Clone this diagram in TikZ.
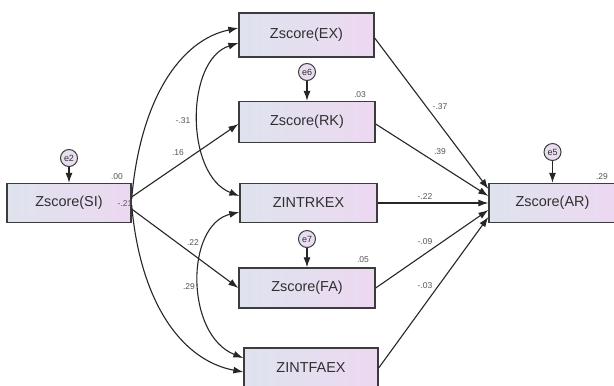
\documentclass[tikz,border=0pt]{standalone}
\usepackage{fontspec}
\setmainfont{Liberation Sans}
\usetikzlibrary{arrows.meta}
\definecolor{boxleft}{HTML}{DEE3EE}
\definecolor{boxright}{HTML}{EDD8F1}
\definecolor{edgegray}{HTML}{3C3C3C}
\definecolor{labelgray}{HTML}{555555}
\definecolor{textgray}{HTML}{303030}
\definecolor{errfill}{HTML}{E9DDF0}

\begin{document}
\begin{tikzpicture}[x=1bp,y=-1bp,
  varbox/.style={draw=edgegray, line width=1.3bp, left color=boxleft, right color=boxright,
                 inner sep=0pt, text=textgray, font=\fontsize{14.5}{17}\selectfont},
  errnode/.style={circle, draw=edgegray, line width=1bp, fill=errfill, minimum size=17bp,
                  inner sep=0pt, text=textgray, font=\fontsize{9}{10}\selectfont},
  coef/.style={inner sep=0pt, text=labelgray, font=\fontsize{8.5}{9}\selectfont},
  onehead/.style={draw=black!85, line width=1.1bp, -{Latex[length=10bp,width=7bp]}},
  twohead/.style={draw=black!85, line width=1.1bp, {Latex[length=10bp,width=7bp]}-{Latex[length=10bp,width=7bp]}}
]
\path[use as bounding box] (0,0) rectangle (614,385);
\clip (0,0) rectangle (614,385);
\fill[white] (0,0) rectangle (614,385);

% observed variables
\node[varbox, minimum width=124bp, minimum height=39bp] (si)   at (69,203)    {Zscore(SI)};
\node[varbox, minimum width=135bp, minimum height=44bp] (ex)   at (306.5,35)  {Zscore(EX)};
\node[varbox, minimum width=136bp, minimum height=41bp] (rk)   at (307,122)   {Zscore(RK)};
\node[varbox, minimum width=137bp, minimum height=39bp] (rkex) at (308.5,203) {ZINTRKEX};
\node[varbox, minimum width=136bp, minimum height=40bp] (fa)   at (307,288)   {Zscore(FA)};
\node[varbox, minimum width=134bp, minimum height=40bp] (faex) at (311,368)   {ZINTFAEX};
\node[varbox, minimum width=127bp, minimum height=39bp] (ar)   at (552.5,203) {Zscore(AR)};

% error terms
\node[errnode] (e2) at (69,158)    {e2};
\node[errnode] (e6) at (307,72)    {e6};
\node[errnode] (e7) at (307,239)   {e7};
\node[errnode] (e5) at (552.5,152) {e5};

\draw[onehead] (e2) -- (si);
\draw[onehead] (e6) -- (rk);
\draw[onehead] (e7) -- (fa);
\draw[onehead] (e5) -- (ar);

% squared multiple correlations
\node[coef] (v00) at (117,177) {.00};
\node[coef] (v03) at (360,95)  {.03};
\node[coef] (v05) at (363,260) {.05};
\node[coef] (v29) at (602,177) {.29};

% path coefficients on the left
\node[coef] (c21) at (125,204) {-.21};
\node[coef] (c31) at (183,121) {-.31};
\node[coef] (c16) at (178,153) {.16};
\node[coef] (c22) at (193,243) {.22};
\node[coef] (c29) at (189,287) {.29};

% paths from Zscore(SI)
\draw[onehead] ([yshift=4bp]si.east) .. controls (140,100) and (180,40) .. ([yshift=7bp]ex.west);
\draw[onehead] ([yshift=6bp]si.east) -- ([yshift=-2bp]rk.west);
\draw[onehead] ([yshift=-6bp]si.east) -- (fa.west);
\draw[onehead] ([yshift=-2bp]si.east) .. controls (140,300) and (180,360) .. ([yshift=-4bp]faex.west);

% covariances
\draw[twohead] ([yshift=-8bp]ex.west) .. controls (185,60) and (185,175) .. ([yshift=7bp]rkex.west);
\draw[twohead] ([yshift=-9bp]rkex.west) .. controls (185,225) and (185,335) .. ([yshift=10bp]faex.west);

% paths into Zscore(AR)
\draw[onehead] ([yshift=-3bp]ex.east) -- ([yshift=14bp]ar.west);
\draw[onehead] ([yshift=-2bp]rk.east) -- ([yshift=7bp]ar.west);
\draw[onehead] (rkex.east) -- (ar.west);
\draw[onehead] (fa.east) -- ([yshift=-7bp]ar.west);
\draw[onehead] (faex.east) -- ([yshift=-14bp]ar.west);

% path coefficients on the right
\node[coef] (c37) at (440,107) {-.37};
\node[coef] (c39) at (440,152) {.39};
\node[coef] (c22b) at (425,197) {-.22};
\node[coef] (c09) at (425,242) {-.09};
\node[coef] (c03) at (425,286) {-.03};
\end{tikzpicture}
\end{document}
